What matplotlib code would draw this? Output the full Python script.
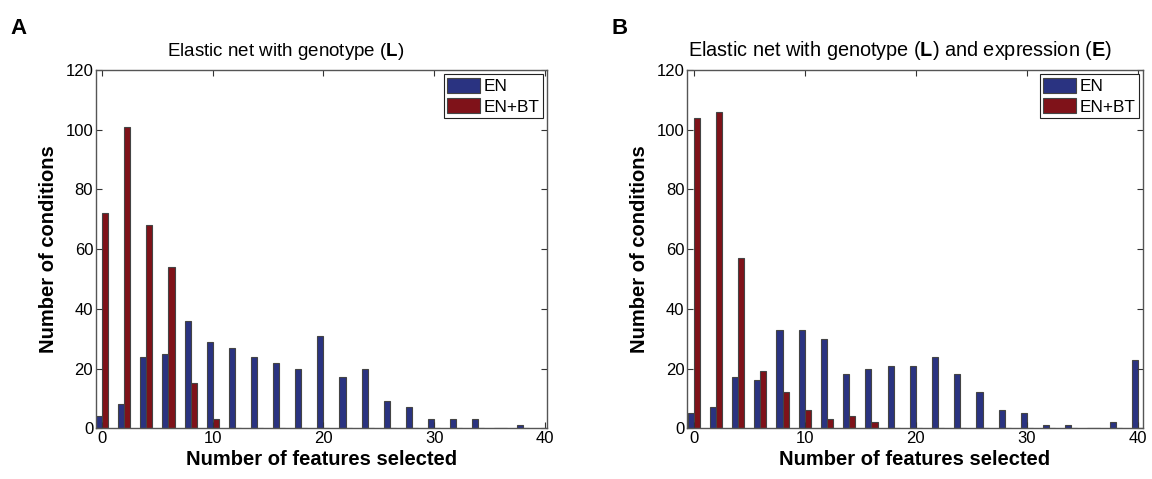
import matplotlib
matplotlib.use("Agg")
import matplotlib.pyplot as plt
import numpy as np

plt.rcParams['font.family'] = ['Liberation Sans', 'DejaVu Sans']
plt.rcParams['mathtext.fontset'] = 'custom'
plt.rcParams['mathtext.rm'] = 'Liberation Sans'
plt.rcParams['mathtext.bf'] = 'Liberation Sans:bold'

# bin centres (number of features selected)
bins_a = np.arange(0, 40, 2)
bins_b = np.arange(0, 42, 2)

# panel A: elastic net with genotype
en_a = [4, 8, 24, 25, 36, 29, 27, 24, 22, 20, 31, 17, 20, 9, 7, 3, 3, 3, 0, 1]
enbt_a = [72, 101, 68, 54, 15, 3, 0, 0, 0, 0, 0, 0, 0, 0, 0, 0, 0, 0, 0, 0]

# panel B: elastic net with genotype and expression
en_b = [5, 7, 17, 16, 33, 33, 30, 18, 20, 21, 21, 24, 18, 12, 6, 5, 1, 1, 0, 2, 23]
enbt_b = [104, 106, 57, 19, 12, 6, 3, 4, 2, 0, 0, 0, 0, 0, 0, 0, 0, 0, 0, 0, 0]

titles = ["Elastic net with genotype ($\\mathbf{L}$)",
          "Elastic net with genotype ($\\mathbf{L}$) and expression ($\\mathbf{E}$)"]
panel_labels = ["A", "B"]

blue = "#2a3381"
red = "#7f1219"
w = 0.55

fig = plt.figure(figsize=(11.52, 4.79), dpi=100)
ax_a = fig.add_axes([0.0833, 0.106, 0.3915, 0.748])
ax_b = fig.add_axes([0.5964, 0.106, 0.3958, 0.748])

panels = [(ax_a, bins_a, en_a, enbt_a, (-0.55, 40.2), 0.42, 13.5),
          (ax_b, bins_b, en_b, enbt_b, (-0.6, 40.45), 0.468, 14.3)]

for i, (ax, bins, en, enbt, xl, tx, tfs) in enumerate(panels):
    ax.bar(bins - w / 2, en, width=w, color=blue, edgecolor="#444444",
           linewidth=0.8, label="EN")
    ax.bar(bins + w / 2, enbt, width=w, color=red, edgecolor="#444444",
           linewidth=0.8, label="EN+BT")
    ax.set_xlim(*xl)
    ax.set_ylim(0, 120)
    ax.set_xticks([0, 10, 20, 30, 40])
    ax.set_yticks(np.arange(0, 121, 20))
    ax.tick_params(direction="in", length=4, width=0.8, top=True, right=True,
                   labelsize=12, color="#333333", pad=2)
    for s in ax.spines.values():
        s.set_color("#555555")
        s.set_linewidth(1.0)
    ax.set_xlabel("Number of features selected", fontsize=14.5, fontweight="bold",
                  labelpad=3)
    ax.set_ylabel("Number of conditions", fontsize=14.5, fontweight="bold",
                  labelpad=5)
    ax.set_title(titles[i], fontsize=tfs, pad=10, x=tx)
    leg = ax.legend(loc="upper right", fontsize=12.4, fancybox=False,
                    framealpha=1, edgecolor="#222222", borderpad=0.2,
                    handlelength=1.9, handleheight=0.95, handletextpad=0.2,
                    labelspacing=0.25, borderaxespad=0.25)
    leg.get_frame().set_linewidth(0.8)

fig.text(0.009, 0.93, panel_labels[0], fontsize=16, fontweight="bold")
fig.text(0.531, 0.93, panel_labels[1], fontsize=16, fontweight="bold")

fig.savefig("out.png", dpi=100)
